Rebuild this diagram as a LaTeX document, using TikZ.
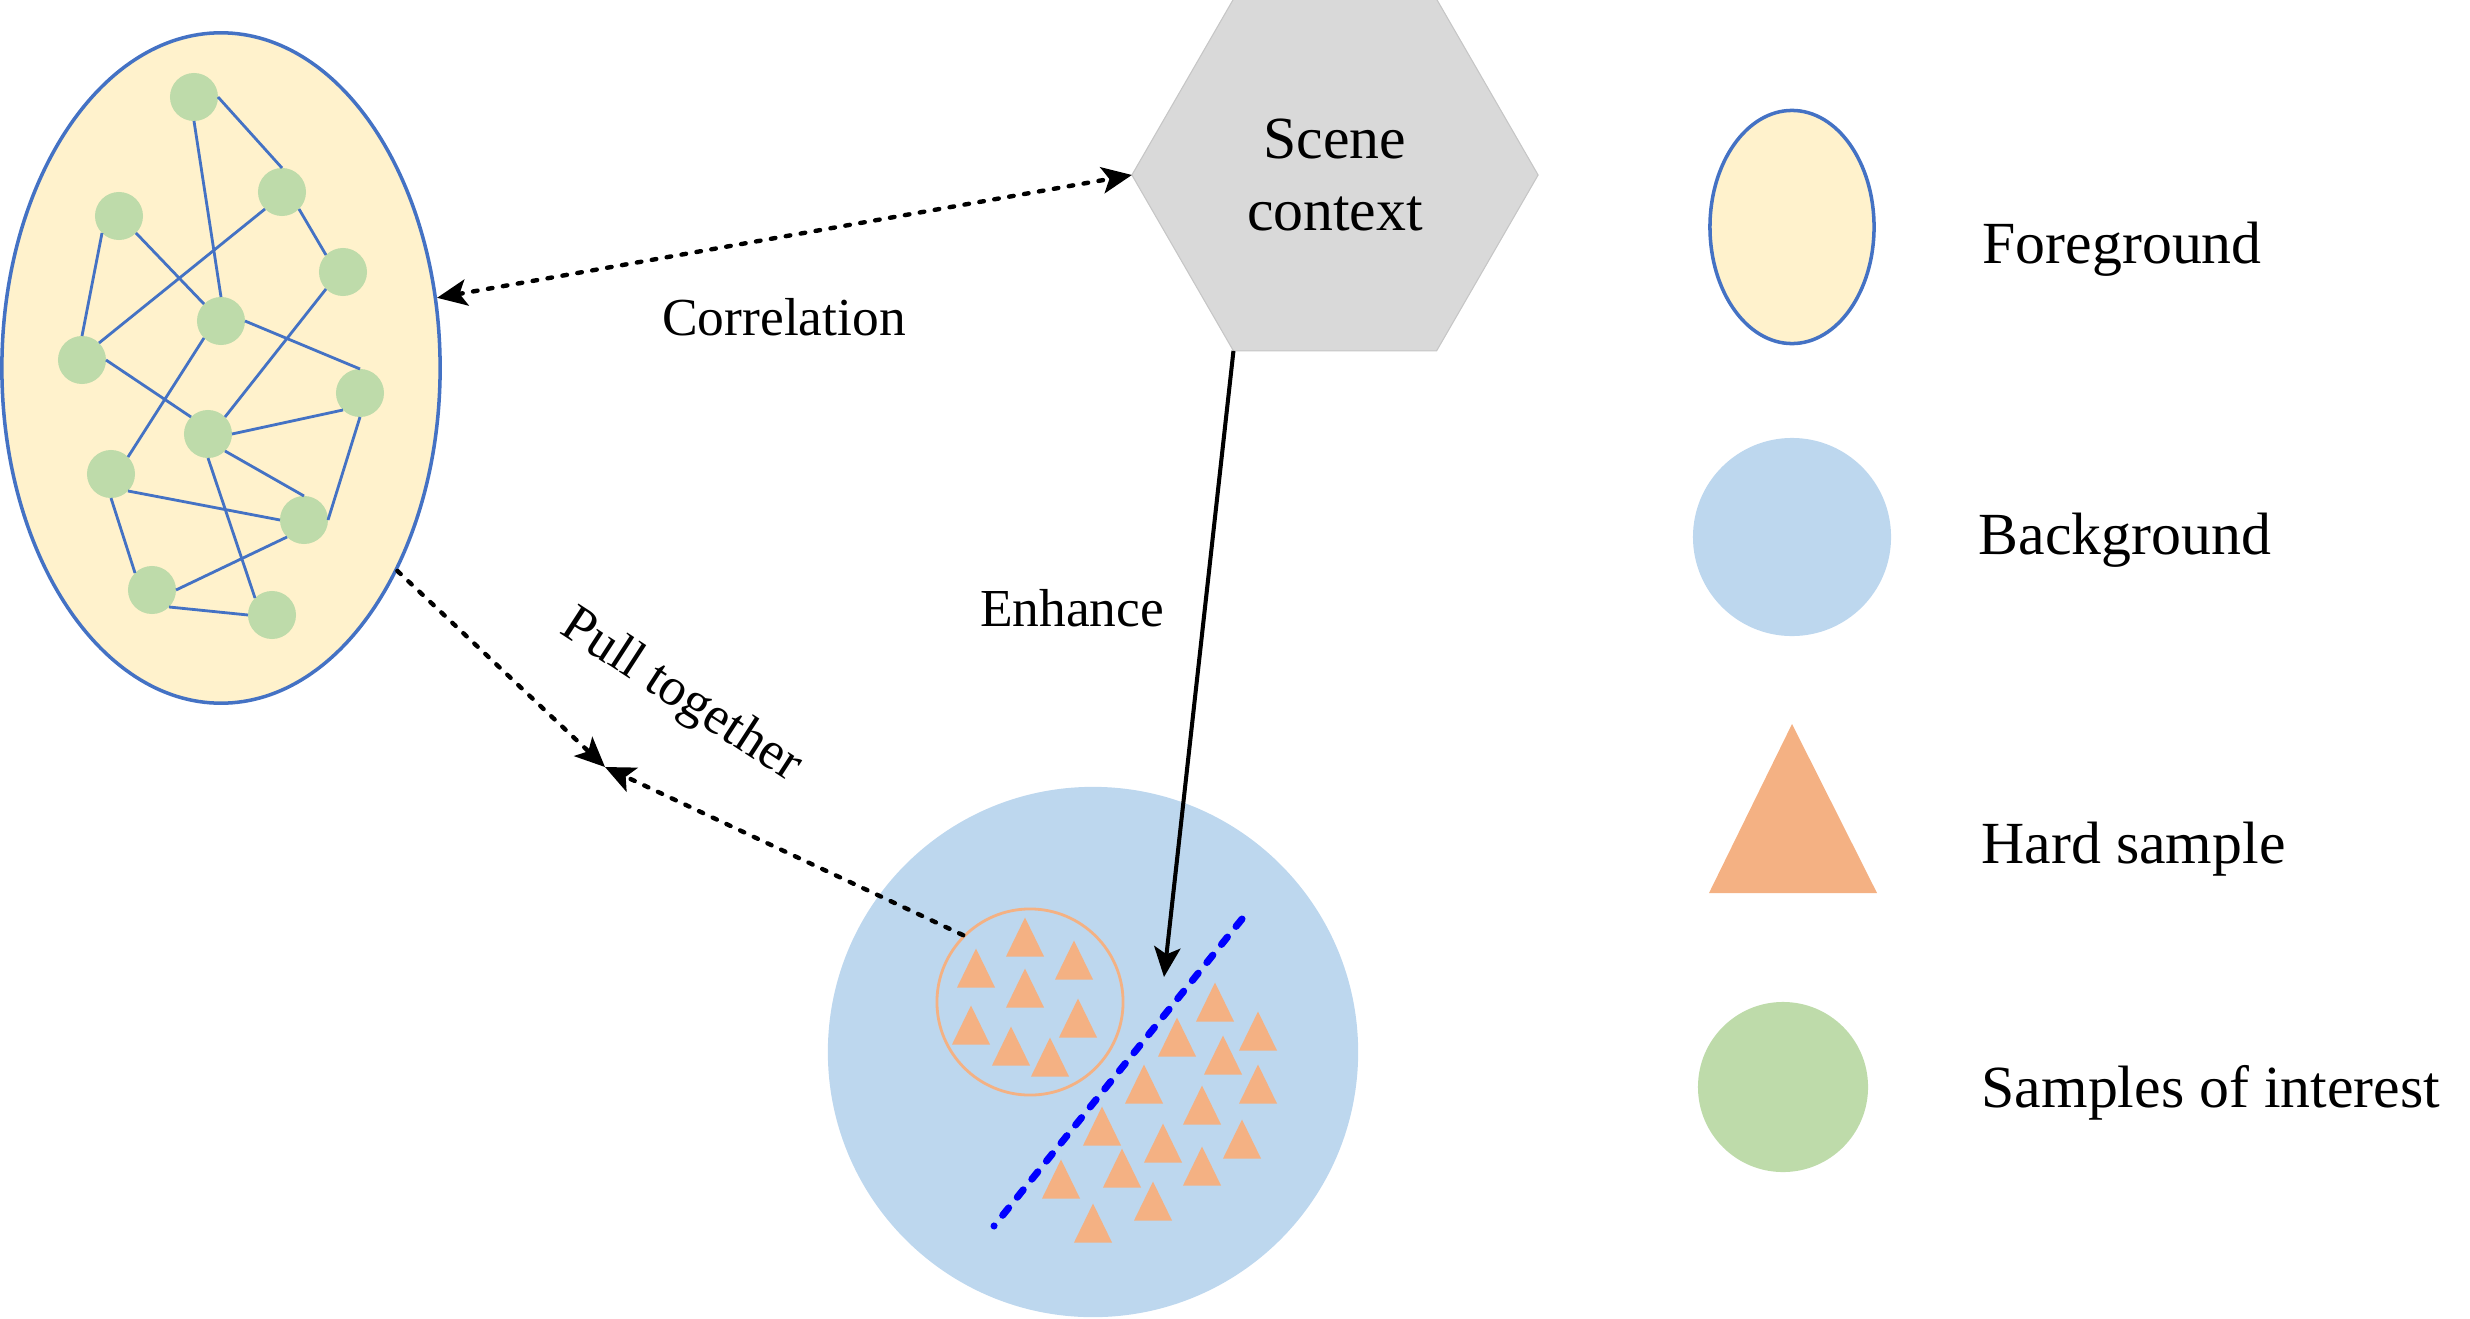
\documentclass[tikz,border=0pt]{standalone}
\usepackage{fontspec}
\setmainfont{Liberation Serif}
\usetikzlibrary{shapes.geometric,arrows.meta}
\definecolor{fgfill}{RGB}{255,242,204}
\definecolor{fgline}{RGB}{68,114,196}
\definecolor{soigreen}{RGB}{190,219,170}
\definecolor{bgblue}{RGB}{189,215,238}
\definecolor{hardorange}{RGB}{244,177,131}
\definecolor{hexgray}{RGB}{217,217,217}

\begin{document}
\begin{tikzpicture}[x=0.01cm,y=-0.01cm,
		>={Stealth[length=8.5pt,width=7.5pt,inset=2pt]},
		soi/.style={circle,fill=soigreen,minimum size=0.48cm,inner sep=0pt,outer sep=0pt},
		link/.style={fgline,line width=0.8pt},
		pull/.style={line width=1.25pt,line cap=round,dash pattern=on 1.3pt off 3pt},
		hard/.style={fill=hardorange},
		lbl/.style={font=\fontsize{15.2}{18}\selectfont,inner sep=0pt},
		keytxt/.style={font=\fontsize{17}{20}\selectfont,inner sep=0pt,anchor=west}]
			\useasboundingbox (0,0) rectangle (2470,1318);

			\node[ellipse,draw=fgline,fill=fgfill,line width=1pt,minimum width=4.38cm,minimum height=6.70cm,inner sep=0pt] (fg) at (221,368) {};
			\foreach \n/\x/\y in {1/194/97, 2/282/192, 3/119/216, 4/343/272, 5/221/321, 6/82/360,
				7/360/393, 8/208/434, 9/111/474, 10/304/520, 11/152/590, 12/272/615}
				\node[soi] (s\n) at (\x,\y) {};
			\foreach \a/\p/\b/\q in {1/south/5/north, 1/east/2/north, 2/south east/4/north west,
				2/south west/6/north east, 3/south west/6/north, 3/south east/5/north west,
				4/south west/8/north east, 5/east/7/north, 5/south west/9/north east,
				6/east/8/north west, 8/east/7/south west, 8/south east/10/north,
				8/south/12/north west, 7/south/10/east, 9/south east/10/west,
				9/south/11/north west, 10/south west/11/east, 11/south east/12/west}
				\draw[link] (s\a.\p) -- (s\b.\q);

			\node[regular polygon,regular polygon sides=6,minimum size=4.06cm,fill=hexgray,draw=gray!45,line width=0.3pt,inner sep=0pt,outer sep=0pt,align=center,font=\fontsize{17}{20.2}\selectfont] (ctx) at (1335,175) {Scene\\context};

			\node[circle,fill=bgblue,minimum size=5.3cm,inner sep=0pt,outer sep=0pt] (bg) at (1093,1052) {};
			\foreach \x/\y in {1025/937, 976/968, 1074/960, 1025/988, 971/1025, 1078/1018, 1011/1046, 1050/1057,
				1215/1002, 1258/1031, 1177/1037, 1223/1055, 1144/1084, 1258/1084, 1202/1105, 1102/1126,
				1163/1143, 1242/1139, 1122/1168, 1202/1166, 1061/1179, 1153/1201, 1093/1223}
				\fill[hard] (\x,\y) ++(-19,19.5) -- ++(38,0) -- ++(-19,-39) -- cycle;
			\node[circle,draw=hardorange,line width=0.8pt,minimum size=1.86cm,inner sep=0pt] (grp) at (1030,1002) {};
			\coordinate (cutA) at (1242,919);
			\coordinate (cutB) at (994,1226);
			\draw[blue,line width=2pt,line cap=round,dash pattern=on 2.7pt off 3.9pt] (cutA) -- (cutB);

			\coordinate (meet) at (605,767);
			\coordinate (hit) at (1164,977);
			\draw[pull,<->] (fg.18) -- (ctx.west);
			\draw[pull,->] (fg.-49) -- (meet);
			\draw[pull,->] (grp.135) -- (meet);
			\draw[line width=1.15pt,->] (ctx.240) -- (hit);

			\node[lbl] (corr) at (784,317) {Correlation};
			\node[lbl] (enh) at (1072,608) {Enhance};
			\node[lbl,rotate=-33] (pt) at (681,697) {Pull together};

			\node[ellipse,draw=fgline,fill=fgfill,line width=1pt,minimum width=1.64cm,minimum height=2.33cm,inner sep=0pt] (keyFg) at (1792,227) {};
			\node[circle,fill=bgblue,minimum size=1.98cm,inner sep=0pt] (keyBg) at (1792,537) {};
			\fill[hard] (1709,893) -- (1877,893) -- (1792,724) -- cycle;
			\node[circle,fill=soigreen,minimum size=1.70cm,inner sep=0pt] (keySoi) at (1783,1087) {};
			\node[keytxt] (tFg) at (1982,249) {Foreground};
			\node[keytxt] (tBg) at (1978,540) {Background};
			\node[keytxt] (tHard) at (1981,849) {Hard sample};
			\node[keytxt] (tSoi) at (1981,1093) {Samples of interest};
		\end{tikzpicture}
\end{document}
